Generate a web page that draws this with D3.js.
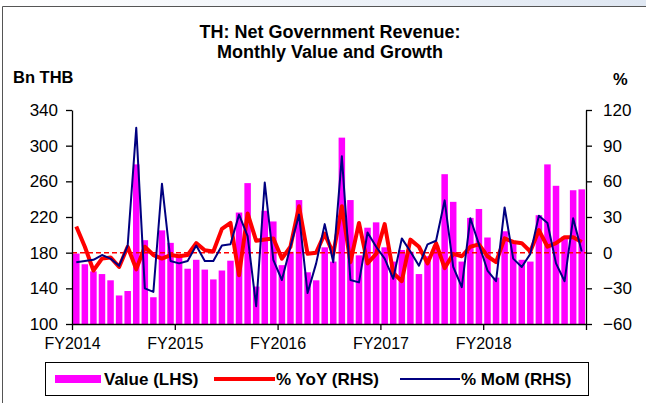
<!DOCTYPE html>
<html>
<head>
<meta charset="utf-8">
<script src="https://cdn.jsdelivr.net/npm/d3@7"></script>
<style>
  body { margin: 0; background: #fff; }
  text { font-family: Arial, "Liberation Sans", sans-serif; }
</style>
</head>
<body>
<div id="chart"></div>
<script>
// fiscal years (Oct - Sep)
var years = ["FY2014", "FY2015", "FY2016", "FY2017", "FY2018"];
var monthNames = ["Oct","Nov","Dec","Jan","Feb","Mar","Apr","May","Jun","Jul","Aug","Sep"];
var months = [];
years.forEach(function(fy) {
  var y = +fy.slice(2);
  monthNames.forEach(function(m, i) { months.push(m + "-" + (i < 3 ? y - 1 : y)); });
});

// Bn THB
var value = [179,167,159,156,149,132,137,279,194,130,205,191,
             176,162,172,161,150,160,171,225,258,142,227,215,
             166,181,239,158,149,186,170,309,239,177,208,214,
             186,170,183,181,156,176,188,268,237,170,219,229,
             197,152,204,192,172,170,222,279,255,198,250,251];
// % YoY
var yoy = [22,5,-15,-5,-4,-12,5,-14,5,-2,-5,-2,
           -3,-2,8,2,1,20,25,-19,33,10,11,12,
           -5,5,39,-1,0,16,-1,39,-8,25,-9,-1,
           24,-17,-24,11,5,-9,8,-13,-1,-3,5,7,
           -3,-8,12,9,8,1,19,5,8,13,13,9];
// % MoM
var mom = [-8,-7,-6,-2,-5,-11,6,105,-30,-33,58,-7,
           -9,-7,6,-7,-7,6,7,32,14,-45,59,-6,
           -23,5,32,-34,-9,24,-8,81,-23,-25,17,5,
           -5,-22,12,1,-11,7,10,44,-12,-29,29,7,
           -15,-24,38,-5,-12,-1,31,25,-9,-24,29,1];

var leftTicks = [100,140,180,220,260,300,340];
var rightTicks = [-60,-30,0,30,60,90,120];

var W = 646, H = 403;
var plot = {left: 72, right: 586, top: 110, bottom: 324};

var svg = d3.select("#chart").append("svg")
  .attr("width", W).attr("height", H);

// outer frame
var grad = svg.append("defs").append("linearGradient").attr("id", "topfade")
  .attr("x1", 0).attr("x2", 1);
grad.append("stop").attr("offset", 0).attr("stop-color", "#fff");
grad.append("stop").attr("offset", 1).attr("stop-color", "#dfe7f2");
svg.append("rect").attr("x", 0).attr("y", 0).attr("width", W).attr("height", 6).attr("fill", "url(#topfade)");
svg.append("path").attr("d", "M2.5," + H + "V6.5H" + W)
  .attr("fill", "none").attr("stroke", "#555").attr("stroke-width", 1);

// title
svg.append("text").attr("x", 330).attr("y", 38).attr("text-anchor", "middle")
  .style("font-size", "18px").style("font-weight", "bold").text("TH: Net Government Revenue:");
svg.append("text").attr("x", 330).attr("y", 58).attr("text-anchor", "middle")
  .style("font-size", "18px").style("font-weight", "bold").text("Monthly Value and Growth");
svg.append("text").attr("x", 13).attr("y", 83)
  .style("font-size", "16.5px").style("font-weight", "bold").text("Bn THB");
svg.append("text").attr("x", 613).attr("y", 85)
  .style("font-size", "16.5px").style("font-weight", "bold").text("%");

// scales
var x = d3.scaleBand().domain(months).range([plot.left, plot.right])
  .paddingInner(0.24).paddingOuter(0.12);
var yL = d3.scaleLinear().domain([100, 340]).range([plot.bottom, plot.top]);
var yR = d3.scaleLinear().domain([-60, 120]).range([plot.bottom, plot.top]);
var xYear = d3.scaleLinear().domain([0, years.length]).range([plot.left, plot.right]);

// bars
svg.append("g").selectAll("rect").data(value).enter().append("rect")
  .attr("x", function(d, i) { return x(months[i]); })
  .attr("width", x.bandwidth())
  .attr("y", function(d) { return yL(d); })
  .attr("height", function(d) { return yL(100) - yL(d); })
  .attr("fill", "#ff00ff");

// zero line
svg.append("line")
  .attr("x1", plot.left).attr("x2", plot.right)
  .attr("y1", yR(0)).attr("y2", yR(0))
  .attr("stroke", "#ff0000").attr("stroke-width", 1.5).attr("stroke-dasharray", "5,3");

var line = function(arr) {
  return d3.line()
    .x(function(d, i) { return x(months[i]) + x.bandwidth() / 2; })
    .y(function(d) { return yR(d); })(arr);
};

svg.append("path").attr("d", line(yoy))
  .attr("fill", "none").attr("stroke", "#ff0000").attr("stroke-width", 4)
  .attr("stroke-linejoin", "round");
svg.append("path").attr("d", line(mom))
  .attr("fill", "none").attr("stroke", "#000080").attr("stroke-width", 2)
  .attr("stroke-linejoin", "round");

// axes
var axL = svg.append("g").attr("transform", "translate(" + plot.left + ",0)")
  .call(d3.axisLeft(yL).tickValues(leftTicks).tickSize(6).tickSizeOuter(0).tickPadding(8));
var axR = svg.append("g").attr("transform", "translate(" + plot.right + ",0)")
  .call(d3.axisRight(yR).tickValues(rightTicks).tickSize(6).tickSizeOuter(0).tickPadding(11));
var axB = svg.append("g").attr("transform", "translate(0," + plot.bottom + ")")
  .call(d3.axisBottom(xYear).tickValues(d3.range(years.length + 1)).tickSize(6).tickSizeOuter(0)
    .tickFormat(function(i) { return years[i] || ""; }).tickPadding(8));
[axL, axR].forEach(function(g) {
  g.selectAll("text").style("font-size", "17px");
});
axB.selectAll("text").style("font-size", "16px");
[axL, axR, axB].forEach(function(g) {
  g.selectAll("path, line").attr("stroke", "#000").attr("stroke-width", 1.3);
  g.selectAll("text").attr("fill", "#000")
    .style("font-family", "Arial, 'Liberation Sans', sans-serif");
});

// legend
var lg = svg.append("g");
lg.append("rect").attr("x", 45.5).attr("y", 362.5).attr("width", 543).attr("height", 33)
  .attr("fill", "#fff").attr("stroke", "#000").attr("stroke-width", 1);
lg.append("rect").attr("x", 55).attr("y", 375).attr("width", 46).attr("height", 8).attr("fill", "#ff00ff");
lg.append("text").attr("x", 104).attr("y", 385).style("font-size", "17px").style("font-weight", "bold").text("Value (LHS)");
lg.append("line").attr("x1", 214).attr("x2", 275).attr("y1", 379).attr("y2", 379)
  .attr("stroke", "#ff0000").attr("stroke-width", 4);
lg.append("text").attr("x", 276).attr("y", 385).style("font-size", "17px").style("font-weight", "bold").text("% YoY (RHS)");
lg.append("line").attr("x1", 400).attr("x2", 460).attr("y1", 379).attr("y2", 379)
  .attr("stroke", "#000080").attr("stroke-width", 2);
lg.append("text").attr("x", 461).attr("y", 385).style("font-size", "17px").style("font-weight", "bold").text("% MoM (RHS)");
</script>
</body>
</html>
